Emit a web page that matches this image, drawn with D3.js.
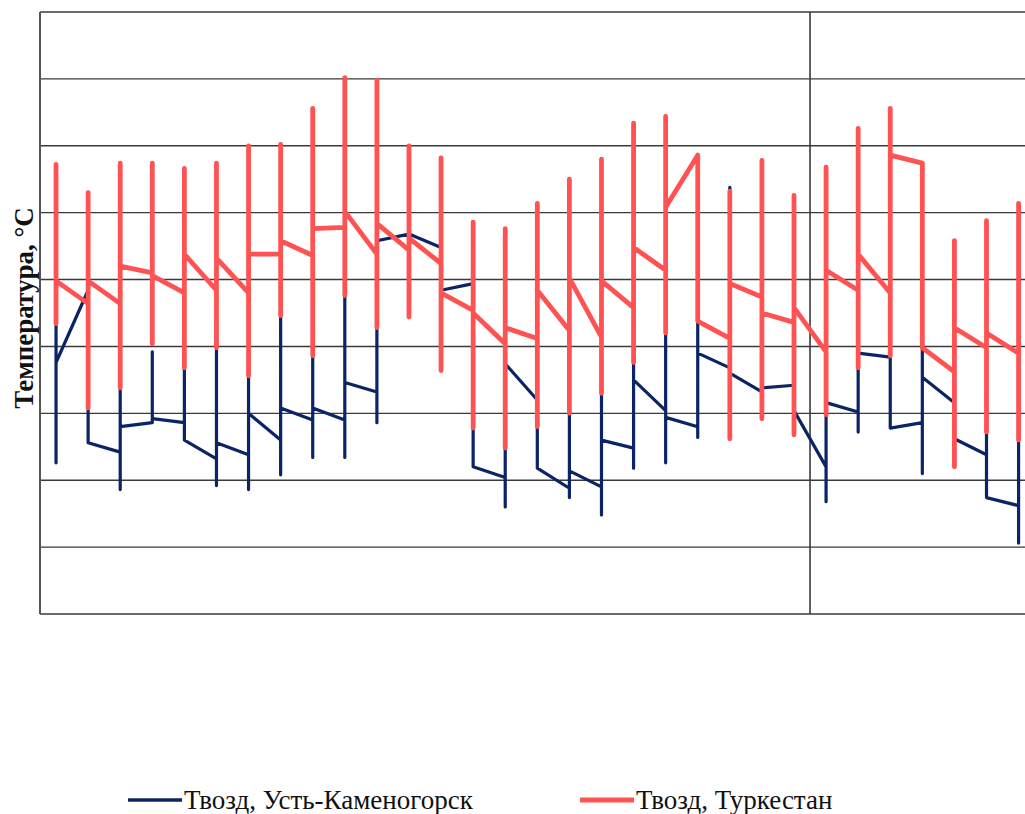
<!DOCTYPE html>
<html>
<head>
<meta charset="utf-8">
<script src="https://cdn.jsdelivr.net/npm/d3@7"></script>
<style>
  body { margin: 0; background: #fff; }
  svg { display: block; }
</style>
</head>
<body>
<div id="chart"></div>
<script>
// day numbers of the month
const days = d3.range(1, 32);

// Turkestan (°C): value coming into the day, daily max, daily min, value leaving the day
const turkArr = [24.9, 23.2, 23.2, 25.5, 24.0, 24.2, 24.0, 26.9, 26.8, 28.9, 26.9, 27.2, 26.2, 22.7, 20.2, 20.6,
  21.2, 20.7, 22.9, 25.7, 34.3, 20.6, 23.7, 21.8, 19.6, 24.2, 24.0, 33.7, 18.1, 19.9, 19.5];
const turkMax = [33.6, 31.5, 33.7, 33.7, 33.3, 33.7, 35.0, 35.1, 37.8, 40.1, 39.9, 35.0, 34.1, 29.3, 28.8, 30.7,
  32.5, 34.0, 36.7, 37.2, 34.3, 31.6, 33.9, 31.3, 33.4, 36.3, 37.8, 33.7, 27.9, 29.4, 30.7];
const turkMin = [21.7, 15.4, 16.9, 20.2, 18.4, 19.9, 17.8, 22.3, 19.3, 23.8, 21.4, 22.2, 18.2, 13.9, 12.4, 14.0,
  15.0, 16.5, 18.8, 21.0, 21.9, 13.1, 14.6, 13.4, 14.9, 18.4, 19.3, 19.9, 11.0, 13.6, 13.0];
const turkDep = [24.9, 24.9, 26.0, 25.3, 26.9, 26.6, 26.9, 27.9, 28.8, 30.1, 29.2, 28.1, 24.0, 22.5, 21.4, 24.2,
  25.1, 24.9, 27.4, 30.4, 21.9, 24.7, 22.5, 22.9, 25.7, 26.9, 34.3, 19.9, 21.4, 21.0, 20.4];

// Ust-Kamenogorsk (°C)
const ustArr = [18.8, 24.2, 12.1, 14.3, 14.3, 11.6, 11.9, 13.0, 14.5, 14.5, 16.6, 28.4, 27.4, 24.7, 10.2, 16.0,
  9.4, 9.5, 12.4, 15.2, 14.0, 18.4, 16.6, 17.1, 11.0, 15.1, 19.2, 14.3, 15.8, 11.9, 8.1];
const ustMax = [23.4, 24.9, 20.4, 19.6, 21.2, 21.9, 21.2, 24.2, 22.7, 25.7, 28.7, 29.8, 28.7, 25.7, 20.4, 18.2,
  18.2, 19.0, 21.2, 22.7, 23.4, 31.9, 20.4, 19.0, 18.2, 21.2, 21.2, 21.9, 17.5, 16.7, 16.0];
const ustMin = [11.3, 12.8, 9.3, 14.7, 13.0, 9.6, 9.3, 10.4, 11.7, 11.7, 14.3, 23.4, 21.2, 11.3, 8.0, 11.0,
  8.7, 7.4, 10.9, 11.3, 13.2, 17.5, 16.0, 14.5, 8.4, 13.6, 13.9, 10.5, 12.6, 8.7, 5.3];
const ustDep = [18.8, 12.8, 14.0, 14.6, 13.0, 12.8, 15.0, 15.4, 15.4, 17.3, 27.9, 28.4, 24.2, 11.0, 18.7, 10.9,
  10.7, 13.0, 17.5, 14.7, 19.5, 18.0, 16.9, 15.2, 15.8, 19.5, 13.9, 17.7, 13.1, 8.7, 7.0];

const yTicks = d3.range(0, 46, 5);
const xMarks = [24.5];

const seriesNames = ["Твозд, Усть-Каменогорск", "Твозд, Туркестан"];
const colors = ["#0b2466", "#ff5252"];

const width = 1025, height = 814;
const plotLeft = 40, plotTop = 12, plotBottom = 614;

const svg = d3.select("#chart").append("svg")
  .attr("width", width)
  .attr("height", height);

const x = d3.scaleLinear().domain([0.5, 31.2]).range([plotLeft, width]);
const y = d3.scaleLinear().domain([0, 45]).range([plotBottom, plotTop]);

// gridlines
svg.append("g")
  .selectAll("line")
  .data(yTicks)
  .enter()
  .append("line")
  .attr("x1", plotLeft)
  .attr("x2", width)
  .attr("y1", d => y(d))
  .attr("y2", d => y(d))
  .attr("stroke", "#3a3a3a")
  .attr("stroke-width", 1.4);

svg.append("g")
  .selectAll("line")
  .data(xMarks)
  .enter()
  .append("line")
  .attr("x1", d => x(d))
  .attr("x2", d => x(d))
  .attr("y1", plotTop)
  .attr("y2", plotBottom)
  .attr("stroke", "#3a3a3a")
  .attr("stroke-width", 1.6);

// left border
svg.append("line")
  .attr("x1", plotLeft).attr("x2", plotLeft)
  .attr("y1", plotTop).attr("y2", plotBottom)
  .attr("stroke", "#555")
  .attr("stroke-width", 2);

// each day: in -> max -> min -> out, all at the same x
const toPoints = (arr, mx, mn, dep) => {
  const pts = [];
  days.forEach((d, i) => {
    pts.push([d, arr[i]], [d, mx[i]], [d, mn[i]], [d, dep[i]]);
  });
  return pts;
};

const line = d3.line()
  .x(d => x(d[0]))
  .y(d => y(d[1]))
  .curve(d3.curveLinear);

svg.append("path")
  .datum(toPoints(ustArr, ustMax, ustMin, ustDep))
  .attr("d", line)
  .attr("fill", "none")
  .attr("stroke", colors[0])
  .attr("stroke-width", 3.2)
  .attr("stroke-linejoin", "round")
  .attr("stroke-linecap", "round");

svg.append("path")
  .datum(toPoints(turkArr, turkMax, turkMin, turkDep))
  .attr("d", line)
  .attr("fill", "none")
  .attr("stroke", colors[1])
  .attr("stroke-width", 4.8)
  .attr("stroke-linejoin", "round")
  .attr("stroke-linecap", "round");

// axis title
svg.append("text")
  .attr("transform", "translate(33, 308) rotate(-90)")
  .attr("text-anchor", "middle")
  .attr("font-family", "'Liberation Serif', 'Times New Roman', serif")
  .attr("font-weight", "bold")
  .attr("font-size", "27px")
  .attr("fill", "#111")
  .text("Температура, °C");

// legend
const legendX = [128, 580];
const legend = svg.append("g");
seriesNames.forEach((name, i) => {
  legend.append("line")
    .attr("x1", legendX[i]).attr("x2", legendX[i] + 54)
    .attr("y1", 800).attr("y2", 800)
    .attr("stroke", colors[i])
    .attr("stroke-width", i === 0 ? 3.5 : 5);
  legend.append("text")
    .attr("x", legendX[i] + 56)
    .attr("y", 809)
    .attr("font-family", "'Liberation Serif', 'Times New Roman', serif")
    .attr("font-size", "27px")
    .attr("fill", "#111")
    .text(name);
});
</script>
</body>
</html>
